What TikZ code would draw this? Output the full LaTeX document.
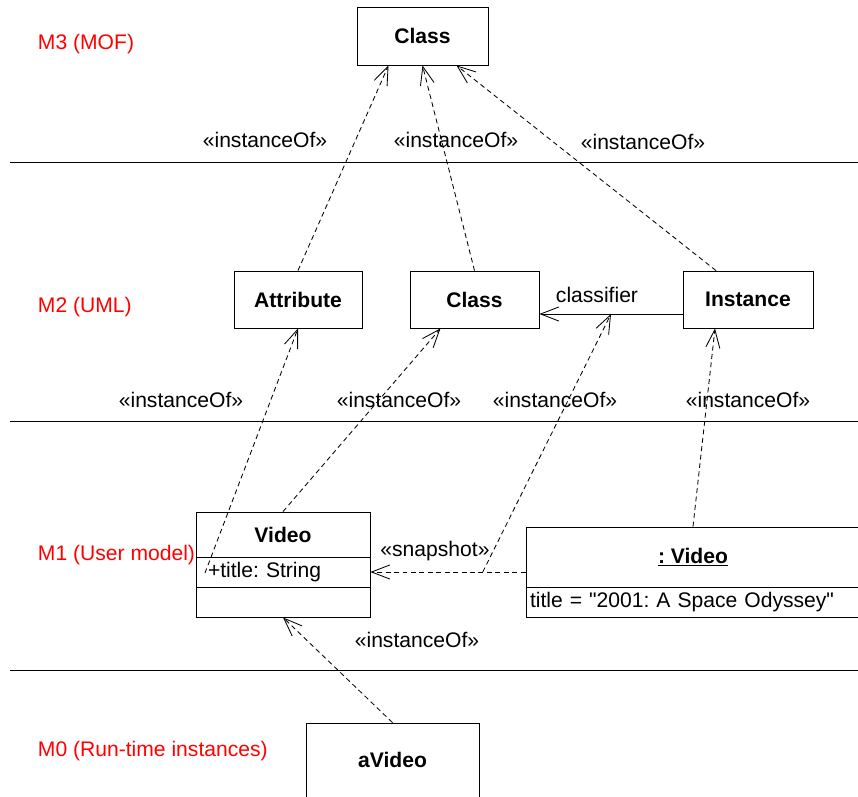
\documentclass[tikz,border=0pt]{standalone}
\usepackage{fontspec}
\setmainfont{Liberation Sans}
\newfontfamily\plainfont{Liberation Sans}
\usepackage{tikz}
\usetikzlibrary{arrows.meta}
\frenchspacing

\begin{document}
\begin{tikzpicture}[x=0.025cm, y=-0.025cm,
        font=\fontsize{15}{18}\selectfont,
        box/.style={draw, line width=0.6pt, inner sep=0pt, font=\fontsize{15}{18}\selectfont\bfseries},
        level/.style={red, anchor=west},
        inst/.style={line width=0.6pt, dash pattern=on 3.5pt off 2.5pt, -{Straight Barb[length=13pt, width=10pt]}},
        assoc/.style={line width=0.6pt, -{Straight Barb[length=13pt, width=10pt]}}]
        \useasboundingbox (0,0) rectangle (858,797);
        \clip (0,0) rectangle (858,797);

        \draw[line width=0.6pt] (10,162) -- (858,162);
        \draw[line width=0.6pt] (10,421) -- (858,421);
        \draw[line width=0.6pt] (10,670) -- (858,670);

        \node[level] (m3) at (33,44) {M3 (MOF)};
        \node[level] (m2) at (33,307) {M2 (UML)};
        \node[level] (m1) at (33,555) {M1 (User model)};
        \node[level] (m0) at (33,751) {M0 (Run-time instances)};

        \node[box, minimum width=131*0.025cm, minimum height=58*0.025cm] (mofclass) at (422.5,36) {Class};
        \node[box, minimum width=128*0.025cm, minimum height=57*0.025cm] (attr) at (298,299.5) {Attribute};
        \node[box, minimum width=129*0.025cm, minimum height=57*0.025cm] (umlclass) at (474.5,299.5) {Class};
        \node[box, minimum width=130*0.025cm, minimum height=57*0.025cm] (instance) at (748,299.5) {Instance};

        \node[box, minimum width=174*0.025cm, minimum height=45*0.025cm] (video) at (283,534.5) {Video};
        \node[box, minimum width=174*0.025cm, minimum height=30*0.025cm, font=\fontsize{15}{18}\selectfont,
              text width=150*0.025cm, align=left] (videoattr) at (283,572) {+title: String};
        \node[box, minimum width=174*0.025cm, minimum height=30*0.025cm] (videoops) at (283,602) {};

        \node[box, minimum width=334*0.025cm, minimum height=60*0.025cm] (obj) at (693,557) {\underline{: Video}};
        \node[box, minimum width=334*0.025cm, minimum height=30*0.025cm, font=\fontsize{15}{18}\selectfont\plainfont,
              text width=326*0.025cm, align=left] (objattr) at (693,602) {title = "2001: A Space Odyssey"};

        \node[box, minimum width=173*0.025cm, minimum height=74*0.025cm] (avideo) at (392.5,760) {aVideo};

        \draw[inst] (attr.north) -- ([shift={(-34,0)}]mofclass.south);
        \draw[inst] (umlclass.north) -- (mofclass.south);
        \draw[inst] ([shift={(-32,0)}]instance.north) -- ([shift={(34,0)}]mofclass.south);

        \draw[assoc] ([shift={(0,14.5)}]instance.west) -- coordinate[pos=0.5] (clsf) ([shift={(0,14.5)}]umlclass.east);
        \node (clsflabel) at (597,295) {classifier};

        \draw[inst] (video.north) -- ([shift={(-34,0)}]umlclass.south);
        \coordinate (attrsrc) at (205,573);
        \draw[inst] (attrsrc) -- (attr.south);
        \draw[inst] (obj.west |- videoattr.east) -- coordinate[pos=0.276] (snap) (videoattr.east);
        \node (snaplabel) at (435,551) {«snapshot»};
        \draw[inst] (snap) -- (clsf);
        \draw[inst] (obj.north) -- ([shift={(-33,0)}]instance.south);
        \draw[inst] (avideo.north) -- (videoops.south);

        \node (i1) at (265,140) {«instanceOf»};
        \node (i2) at (456,140) {«instanceOf»};
        \node (i3) at (643,142) {«instanceOf»};
        \node (i4) at (181,400) {«instanceOf»};
        \node (i5) at (399,400) {«instanceOf»};
        \node (i6) at (555,400) {«instanceOf»};
        \node (i7) at (748,400) {«instanceOf»};
        \node (i8) at (417,640) {«instanceOf»};
\end{tikzpicture}
\end{document}
